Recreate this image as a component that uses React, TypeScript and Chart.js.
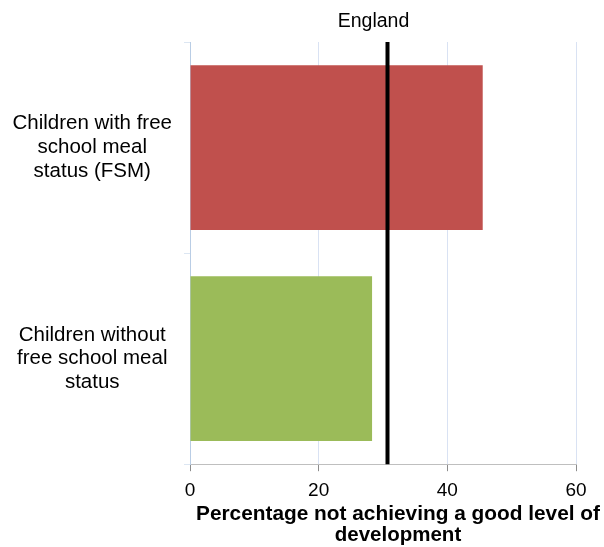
import React, { useEffect, useRef } from "react";
import { Chart, registerables } from "chart.js";

Chart.register(...registerables);

const categories: string[][] = [
  ["Children with free", "school meal", "status (FSM)"],
  ["Children without", "free school meal", "status"],
];
const values: number[] = [45.5, 28.3];
const barColors: string[] = ["#C0504D", "#9BBB59"];
const englandValue = 30.7;
const englandLabel = "England";
const xTitle: string[] = ["Percentage not achieving a good level of", "development"];
const xMin = 0;
const xMax = 60;
const xStep = 20;

const FONT = "'Liberation Sans', Arial, sans-serif";

const englandPlugin = {
  id: "englandLine",
  afterDatasetsDraw(chart: any) {
    const { ctx, chartArea, scales } = chart;
    const x = scales.x.getPixelForValue(englandValue);
    ctx.save();
    ctx.strokeStyle = "#000000";
    ctx.lineWidth = 4;
    ctx.beginPath();
    ctx.moveTo(x, chartArea.top);
    ctx.lineTo(x, chartArea.bottom);
    ctx.stroke();
    ctx.fillStyle = "#000000";
    ctx.font = `19.5px ${FONT}`;
    ctx.textAlign = "center";
    ctx.textBaseline = "middle";
    ctx.fillText(englandLabel, x - 14, chartArea.top - 20);
    ctx.restore();
  },
};

const xTitlePlugin = {
  id: "xTitle",
  afterDraw(chart: any) {
    const { ctx, chartArea } = chart;
    const cx = (chartArea.left + chartArea.right) / 2 + 15;
    const base = chartArea.bottom;
    ctx.save();
    ctx.fillStyle = "#000000";
    ctx.font = `bold 20.5px ${FONT}`;
    ctx.textAlign = "center";
    ctx.textBaseline = "middle";
    const w = ctx.measureText(xTitle[0]).width;
    ctx.translate(cx, base + 50);
    ctx.scale(404 / w, 1);
    ctx.fillText(xTitle[0], 0, 0);
    ctx.restore();
    ctx.save();
    ctx.fillStyle = "#000000";
    ctx.font = `bold 20.5px ${FONT}`;
    ctx.textAlign = "center";
    ctx.textBaseline = "middle";
    ctx.fillText(xTitle[1], cx, base + 71);
    ctx.restore();
  },
};

export default function App() {
  const ref = useRef<HTMLCanvasElement>(null);
  useEffect(() => {
    if (!ref.current) return;
    const chart = new Chart(ref.current, {
      type: "bar",
      data: {
        labels: categories,
        datasets: [
          {
            data: values,
            backgroundColor: barColors,
            borderWidth: 0,
            barPercentage: 0.78,
            categoryPercentage: 1,
          },
        ],
      },
      plugins: [englandPlugin, xTitlePlugin],
      options: {
        indexAxis: "y",
        animation: false,
        responsive: true,
        maintainAspectRatio: false,
        layout: { padding: { top: 42, right: 28, left: 0, bottom: 37 } },
        plugins: {
          legend: { display: false },
          tooltip: { enabled: false },
        },
        scales: {
          x: {
            min: xMin,
            max: xMax,
            ticks: {
              stepSize: xStep,
              color: "#000000",
              font: { family: FONT, size: 19 },
              padding: 8,
            },
            grid: {
              color: "#D9E2F3",
              tickColor: "#8C8C8C",
              tickLength: 7,
              lineWidth: 1,
            },
            border: { color: "#BFBFBF", width: 1 },
            afterFit(scale: any) {
              scale.paddingLeft = 0;
              scale.paddingRight = 0;
            },
          },
          y: {
            ticks: {
              color: "#000000",
              crossAlign: "center",
              font: { family: FONT, size: 20.5, lineHeight: 1.16 },
              padding: 12,
            },
            grid: {
              drawOnChartArea: false,
              color: "#DCE6F2",
              tickLength: 6,
            },
            border: { color: "#B9CDE5", width: 1 },
            afterFit(scale: any) {
              scale.width = 190;
              scale.paddingTop = 0;
              scale.paddingBottom = 0;
            },
          },
        },
      },
    } as any);
    return () => chart.destroy();
  }, []);
  return (
    <div style={{ position: "fixed", left: 0, top: 0, width: 604, height: 547 }}>
      <canvas ref={ref} />
    </div>
  );
}
